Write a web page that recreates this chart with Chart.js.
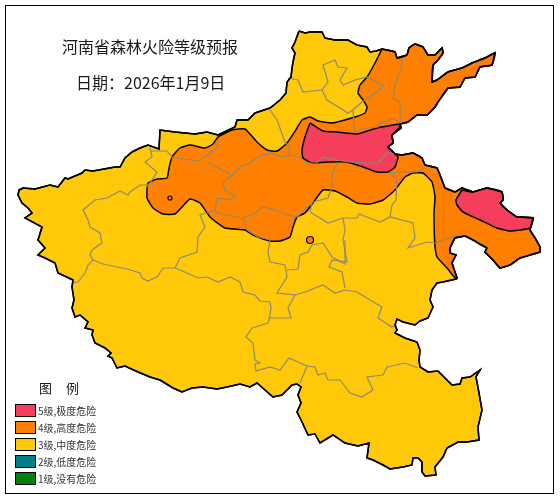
<!DOCTYPE html>
<html>
<head>
<meta charset="utf-8">
<title>河南省森林火险等级预报</title>
<script src="https://cdn.jsdelivr.net/npm/chart.js@4"></script>
<style>
  html, body { margin: 0; padding: 0; background: #fff; }
  canvas { display: block; }
</style>
</head>
<body>
<canvas id="mapChart" width="560" height="500"></canvas>
<script>
//Texts
var titleText = '河南省森林火险等级预报';
var dateText = '日期\uFF1A2026年1月9日';
var legendTitle = ['图', '例'];
var levelLabels = ['5级,极度危险', '4级,高度危险', '3级,中度危险', '2级,低度危险', '1级,没有危险'];
var levelColors = ['#f43e5c', '#ff8000', '#ffc90a', '#007f8a', '#007f0a'];

//Province border, in three parts
var northBorder = [[299,31],[305,33],[310,32],[322,32],[325,38],[335,40],[348,40],[357,45],[367,47],[370,52],[376,51]];
//This part is shared by the province and the level 4 area
var eastBorder = [[382,49],[395,52],[397,58],[407,55],[409,48],[415,44],[423,47],[428,55],[435,55],[442,48],[443,53],[438,60],[433,65],[432,82],[437,80],[448,72],[462,68],[472,63],[485,58],[495,53],[492,65],[480,67],[475,77],[465,78],[460,87],[448,88],[438,102],[435,107],[427,115],[417,115],[408,122],[400,124],[401,128],[392,135],[393,143],[388,147],[395,154],[402,155],[413,153],[422,158],[425,165],[437,168],[440,175],[445,188],[455,192],[462,188],[473,192],[487,188],[502,192],[503,200],[500,203],[507,210],[517,217],[533,218],[530,230],[535,238],[540,247],[540,252],[520,258],[510,265],[500,268],[493,260],[485,252],[487,248],[478,243],[475,241],[465,236],[455,238],[450,248],[450,253],[456,255],[452,263],[457,278],[456,279]];
var southBorder = [[443,282],[437,283],[432,290],[430,300],[433,307],[428,318],[420,321],[415,325],[403,322],[397,319],[395,325],[397,330],[395,333],[405,338],[417,342],[420,350],[419,360],[420,367],[428,372],[438,371],[447,380],[452,385],[460,384],[462,378],[470,377],[480,370],[476,377],[479,393],[482,410],[478,427],[479,440],[467,442],[458,442],[447,448],[443,457],[435,467],[436,475],[425,476],[422,472],[422,462],[418,458],[413,458],[412,465],[403,467],[390,469],[383,465],[373,460],[367,458],[369,443],[358,446],[345,443],[333,435],[320,443],[315,434],[308,435],[302,422],[297,412],[301,403],[298,395],[301,387],[297,384],[292,385],[282,395],[273,397],[265,390],[257,383],[250,387],[240,384],[227,387],[217,389],[203,387],[192,388],[182,392],[173,388],[160,380],[150,377],[138,372],[125,366],[117,368],[112,358],[108,356],[111,353],[105,348],[95,343],[92,335],[93,330],[85,328],[88,322],[80,315],[75,317],[72,308],[74,300],[72,287],[73,280],[58,273],[55,263],[45,258],[38,255],[45,248],[38,240],[42,227],[25,218],[32,213],[28,208],[22,203],[18,195],[19,190],[23,188],[35,189],[50,185],[58,187],[65,178],[68,179],[82,173],[85,170],[93,171],[115,167],[120,167],[125,158],[132,152],[140,148],[148,145],[159,149],[160,130],[175,132],[195,134],[207,132],[218,135],[235,127],[237,120],[248,120],[255,113],[270,108],[280,100],[286,93],[287,82],[291,77],[292,68],[293,62],[295,53],[292,48],[295,42],[299,31]];

//Level 4 area, the rest of its edge
var level4Upper = [[147,188],[148,183],[157,179],[167,178],[169,168],[172,157],[180,148],[190,145],[205,148],[213,144],[218,137],[232,130],[245,129],[257,142],[267,150],[277,151],[287,143],[297,128],[302,120],[310,117],[318,121],[332,123],[355,117],[365,113],[367,107],[363,100],[358,93],[360,85],[367,77],[375,63],[382,49]];
var level4Lower = [[447,268],[437,257],[435,247],[434,213],[435,197],[432,182],[423,173],[413,173],[405,177],[395,190],[383,200],[370,204],[357,203],[347,197],[335,191],[323,190],[313,203],[305,213],[297,217],[293,227],[290,237],[280,241],[270,241],[253,235],[245,230],[225,228],[210,217],[200,203],[190,199],[182,207],[175,214],[163,214],[153,208],[147,198],[147,188]];

//Level 5 areas
var level5North = [[310,123],[323,131],[337,132],[357,134],[377,128],[400,124],[399,128],[392,135],[393,143],[388,147],[395,154],[398,157],[395,167],[388,172],[377,172],[363,167],[347,162],[330,162],[312,163],[303,158],[302,150],[305,137],[310,123]];
var level5East = [[462,190],[473,192],[487,188],[502,192],[503,200],[500,203],[507,210],[517,217],[533,218],[530,228],[510,231],[497,228],[480,220],[463,212],[457,205],[456,200],[462,190]];

//Small isolated spots
var level4Spots = [[310,240],[170,198]];

//Prefecture boundaries
var prefectureLines = [
  [[148,185],[140,185],[130,192],[128,195],[120,191],[107,198],[95,200],[83,210],[88,220],[90,227],[100,233],[102,243],[92,250],[90,255],[93,260],[88,265],[85,273],[78,282],[73,283]],
  [[93,260],[103,264],[117,267],[127,269],[140,273],[142,278],[148,281],[157,277],[163,268],[175,268],[187,273],[198,278],[207,277],[218,282],[230,277],[240,282],[243,292],[255,295],[260,301],[270,302],[271,308],[269,320]],
  [[175,268],[180,258],[197,252],[198,237],[205,227],[200,215],[205,213]],
  [[150,148],[152,157],[145,162],[157,172],[150,183],[146,187]],
  [[151,151],[167,151],[172,157],[183,159],[197,161],[208,155],[217,147],[218,140],[220,137]],
  [[207,162],[222,170],[232,175],[240,167],[250,163],[258,157],[270,153],[283,157],[292,155],[300,158],[308,163],[317,163],[323,157],[335,160],[350,162],[365,163],[378,163],[387,153],[395,154]],
  [[270,110],[277,120],[280,128],[283,137],[285,142],[290,148],[288,155]],
  [[232,175],[223,183],[225,190],[230,193],[236,195],[230,200],[217,198],[215,210],[207,213]],
  [[215,212],[225,215],[243,218],[247,230],[258,237],[270,240]],
  [[243,218],[255,213],[263,207],[273,209],[287,215],[297,217],[313,202],[328,198],[332,187],[332,173],[338,163]],
  [[312,203],[310,212],[320,218],[328,223],[343,218],[357,218],[359,214],[372,219],[380,222],[390,217],[413,223],[415,238],[408,248],[427,242],[435,243],[457,235]],
  [[343,218],[345,230],[343,240],[347,262],[332,260],[329,267],[342,272],[345,288]],
  [[390,217],[392,205],[396,200],[397,180],[390,173],[397,172],[417,172],[425,168]],
  [[355,132],[354,125],[353,110],[362,102],[380,90],[383,85],[367,77],[355,80],[343,85],[340,80],[347,68],[338,67],[335,60],[323,65],[328,82],[322,90],[303,92],[298,80],[288,78]],
  [[322,90],[327,100],[348,113],[353,110]],
  [[355,132],[367,128],[378,127],[380,123],[393,119],[400,122],[400,102],[393,98],[395,85],[402,65],[402,58]],
  [[270,240],[268,253],[270,262],[285,265],[287,277],[277,293],[295,295],[288,308],[291,318],[270,318],[268,323],[252,328],[246,337],[253,343],[255,360],[260,363],[255,364],[256,371],[270,367],[280,370],[289,358],[307,366],[300,383]],
  [[287,270],[298,269],[300,255],[308,252],[312,245],[323,243],[332,257],[345,264],[345,240]],
  [[295,295],[305,292],[323,285],[335,293],[345,290],[357,292],[370,300],[382,307],[378,318],[392,327],[397,325]],
  [[307,366],[315,367],[318,375],[325,373],[328,380],[340,380],[350,393],[362,397],[373,390],[367,377],[383,375],[387,367],[405,363],[418,368]]
];

var provinceOutline = northBorder.concat(eastBorder, southBorder);
var level4Area = level4Upper.concat(eastBorder, level4Lower);

function toPoints(list) {
    return list.map(function (p) { return {x: p[0], y: p[1]}; });
}

//Lower order is painted later, so the black lines end on top
function areaDataset(list, color, order, tension) {
    return {
        data: toPoints(list),
        showLine: true,
        fill: 'shape',
        backgroundColor: color,
        borderColor: '#000',
        borderWidth: 1.5,
        tension: tension,
        pointRadius: 0,
        order: order
    };
}

var datasets = [
    areaDataset(provinceOutline, levelColors[2], 50, 0),
    areaDataset(level4Area, levelColors[1], 49, 0.15),
    areaDataset(level5North, levelColors[0], 48, 0.15),
    areaDataset(level5East, levelColors[0], 48, 0.15)
];

prefectureLines.forEach(function (line) {
    datasets.push({
        data: toPoints(line),
        showLine: true,
        fill: false,
        borderColor: '#8b8a72',
        borderWidth: 1.2,
        pointRadius: 0,
        order: 10
    });
});

//Outline again, without fill, over the orange edge
datasets.push({
    data: toPoints(provinceOutline),
    showLine: true,
    fill: false,
    borderColor: '#000',
    borderWidth: 1.5,
    pointRadius: 0,
    order: 5
});

datasets.push({
    data: toPoints(level4Spots),
    showLine: false,
    backgroundColor: levelColors[1],
    borderColor: '#000',
    borderWidth: 1.2,
    pointRadius: [3.5, 2],
    order: 1
});

//Frame, titles and legend
var mapDecor = {
    id: 'mapDecor',
    afterDraw: function (chart) {
        var ctx = chart.ctx;
        ctx.save();
        ctx.strokeStyle = '#000';
        ctx.lineWidth = 1;
        ctx.strokeRect(5.5, 5.5, 548, 488);

        ctx.fillStyle = '#1a1a1a';
        ctx.textBaseline = 'middle';
        ctx.font = '16px "Noto Sans CJK SC"';
        ctx.fillText(titleText, 62, 47);
        ctx.fillText(dateText, 76, 83);

        ctx.font = '13px "Noto Sans CJK SC"';
        ctx.fillText(legendTitle[0], 39, 388);
        ctx.fillText(legendTitle[1], 66, 388);

        ctx.font = '10px "Noto Sans CJK SC"';
        levelLabels.forEach(function (label, i) {
            var top = 404.5 + i * 17;
            ctx.fillStyle = levelColors[i];
            ctx.fillRect(15.5, top, 20, 12);
            ctx.strokeRect(15.5, top, 20, 12);
            ctx.fillStyle = '#333';
            ctx.fillText(label, 38, top + 6.5);
        });
        ctx.restore();
    }
};

//autoPadding off, otherwise the scales shrink by the point radius and the map no longer lines up
var mapChart = new Chart(document.getElementById('mapChart').getContext('2d'), {
    type: 'scatter',
    data: {datasets: datasets},
    plugins: [mapDecor],
    options: {
        responsive: false,
        animation: false,
        devicePixelRatio: 1,
        layout: {padding: 0, autoPadding: false},
        plugins: {legend: {display: false}, tooltip: {enabled: false}},
        scales: {
            x: {type: 'linear', display: false, min: 0, max: 560},
            y: {type: 'linear', display: false, min: 0, max: 500, reverse: true}
        }
    }
});
</script>
</body>
</html>
